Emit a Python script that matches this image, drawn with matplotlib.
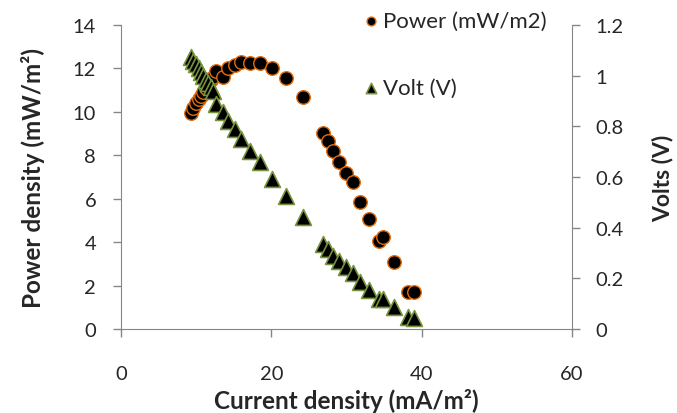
"""power density and voltage vs current density (polarisation curve)"""

import matplotlib.pyplot as plt
from matplotlib.ticker import FuncFormatter

# == data ==
current = [9.3, 9.6, 9.9, 10.3, 10.6, 10.9, 11.3, 11.6, 11.9, 12.2,
           12.6, 13.6, 14.2, 15.1, 16.0, 17.1, 18.5, 20.1, 21.9, 24.2,
           26.8, 27.5, 28.2, 29.0, 29.9, 30.9, 31.8, 33.0, 34.3, 34.8,
           36.3, 38.2, 39.0]
power = [9.97, 10.2, 10.4, 10.6, 10.75, 10.9, 11.1, 11.3, 11.45, 11.6,
         11.9, 11.6, 12.0, 12.15, 12.3, 12.27, 12.25, 12.0, 11.54, 10.67,
         9.05, 8.64, 8.2, 7.7, 7.18, 6.78, 5.83, 5.06, 4.07, 4.22,
         3.1, 1.69, 1.72]
volt = [1.073, 1.06, 1.045, 1.03, 1.015, 1.0, 0.985, 0.97, 0.955, 0.94,
        0.888, 0.855, 0.822, 0.79, 0.75, 0.704, 0.658, 0.592, 0.526, 0.441,
        0.336, 0.314, 0.29, 0.27, 0.245, 0.22, 0.185, 0.153, 0.12, 0.12,
        0.086, 0.046, 0.045]

x_ticks = [0, 20, 40, 60]
p_ticks = [0, 2, 4, 6, 8, 10, 12, 14]
v_ticks = [0, 0.2, 0.4, 0.6, 0.8, 1.0, 1.2]

# == style ==
plt.rcParams['font.family'] = ['Lato', 'DejaVu Sans']
grey = '#868686'
text_c = '#262626'

fig = plt.figure(figsize=(6.77, 4.14), dpi=100)
ax = fig.add_axes([0.179, 0.203, 0.666, 0.734])
ax2 = ax.twinx()

ax.scatter(current, power, s=95, marker='o', facecolor='black',
           edgecolor='#E46C0A', linewidth=1.0, label='Power (mW/m2)', zorder=3)
ax2.scatter(current, volt, s=130, marker='^', facecolor='black',
            edgecolor='#77933C', linewidth=1.2, label='Volt (V)', zorder=3)

ax.set_xlim(0, 60)
ax.set_ylim(0, 14)
ax2.set_ylim(0, 1.2)
ax.set_xticks(x_ticks)
ax.set_yticks(p_ticks)
ax2.set_yticks(v_ticks)
ax2.yaxis.set_major_formatter(FuncFormatter(lambda v, p: '%g' % v))

for a in (ax, ax2):
    a.spines['top'].set_visible(False)
    for s in ('left', 'right', 'bottom'):
        a.spines[s].set_color(grey)
    a.tick_params(colors=grey, labelcolor=text_c, labelsize=14.5, length=6, width=1)
ax.spines['right'].set_visible(False)
ax2.spines['left'].set_visible(False)
ax2.spines['bottom'].set_visible(False)
ax.tick_params(axis='x', pad=20)
ax.tick_params(axis='y', pad=12)
ax2.tick_params(axis='y', pad=11)

ax.set_xlabel('Current density (mA/m²)', fontsize=17.5, fontweight='bold',
              color=text_c, labelpad=4)
ax.set_ylabel('Power density (mW/m²)', fontsize=17.5, fontweight='bold',
              color=text_c, labelpad=20)
ax2.set_ylabel('Volts (V)', fontsize=16.5, fontweight='bold', color=text_c,
               labelpad=20)

h1, l1 = ax.get_legend_handles_labels()
h2, l2 = ax2.get_legend_handles_labels()
leg = ax2.legend(h1 + h2, l1 + l2, loc='upper left',
                 bbox_to_anchor=(0.515, 1.075), frameon=False, fontsize=16,
                 labelspacing=2.1, handletextpad=0.15, borderaxespad=0,
                 handlelength=0.8, markerscale=0.65)
for t in leg.get_texts():
    t.set_color(text_c)

fig.savefig('out.png', dpi=100)
